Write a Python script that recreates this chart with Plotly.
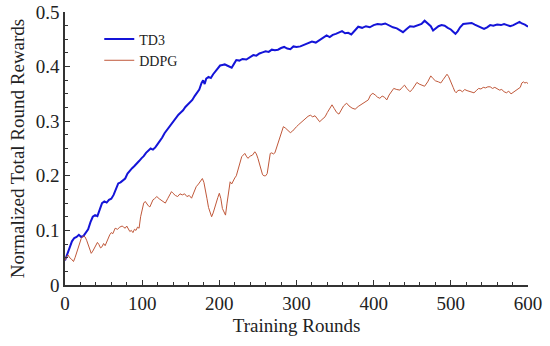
import plotly.graph_objects as go

td3_x = [0,3,6,9,12,15,18,21,24,27,30,33,36,39,42,45,48,51,54,57,60,63,66,69,72,75,78,81,84,87,90,93,96,99,102,105,108,111,114,117,120,123,126,129,132,135,138,141,144,147,150,153,156,159,162,165,168,171,174,177,179,181,183,186,189,192,195,198,201,204,207,210,213,216,219,222,226,230,235,240,244,248,252,256,260,264,268,272,276,280,284,288,292,296,300,305,310,315,320,325,330,335,339,343,347,351,355,359,363,367,371,375,380,385,390,395,400,405,410,415,420,425,430,434,438,442,447,452,457,462,466,470,474,477,480,484,488,492,496,500,503,506,509,512,516,520,524,527,531,535,539,543,547,551,555,560,565,569,573,577,581,585,589,592,596,600]
td3_y = [.045,.058,.068,.080,.086,.088,.092,.088,.090,.097,.102,.115,.125,.128,.126,.138,.150,.153,.151,.156,.158,.165,.176,.186,.188,.192,.195,.204,.210,.214,.218,.222,.227,.232,.236,.242,.247,.250,.248,.252,.258,.263,.270,.278,.284,.290,.296,.302,.306,.312,.316,.320,.326,.330,.334,.339,.346,.352,.358,.370,.375,.368,.378,.381,.379,.386,.392,.396,.402,.403,.404,.402,.400,.398,.405,.412,.411,.414,.413,.417,.421,.420,.424,.426,.428,.427,.431,.430,.431,.434,.436,.433,.432,.437,.436,.437,.440,.442,.446,.444,.449,.453,.457,.454,.458,.460,.462,.465,.461,.462,.459,.466,.473,.471,.474,.472,.476,.478,.477,.479,.475,.472,.470,.466,.463,.468,.474,.473,.475,.478,.484,.479,.474,.466,.470,.474,.476,.475,.471,.468,.464,.460,.465,.472,.478,.479,.480,.480,.477,.474,.471,.469,.472,.476,.475,.477,.476,.478,.476,.474,.476,.479,.482,.479,.477,.473]

ddpg_x = [0,2,4,6,8,11,13,15,17,19,21,24,26,28,30,32,34,36,38,40,42,44,46,48,50,52,54,56,58,60,62,65,68,71,74,76,78,80,82,84,86,88,90,92,94,96,98,100,102,104,106,108,110,112,114,116,119,122,125,128,130,133,136,138,140,143,146,149,152,155,158,161,164,167,170,173,176,178,180,182,184,186,188,190,192,194,196,198,200,202,204,206,208,210,212,214,216,218,220,222,224,226,229,231,233,235,237,240,243,246,248,250,252,254,256,258,260,262,264,266,268,270,272,275,278,281,283,286,289,292,295,298,300,303,306,309,312,315,318,321,324,327,330,333,337,340,343,346,349,352,355,358,361,365,368,372,376,380,384,387,390,393,396,399,402,405,408,411,414,417,420,423,426,430,434,437,440,443,447,450,453,456,459,462,466,470,474,477,480,484,487,490,493,495,497,499,501,503,505,507,509,512,515,518,521,524,527,530,533,536,539,542,545,548,551,554,557,560,563,566,569,572,575,578,581,584,587,590,592,594,596,598,600]
ddpg_y = [.045,.052,.055,.050,.048,.043,.050,.058,.066,.075,.085,.090,.088,.082,.074,.066,.058,.062,.068,.072,.078,.074,.068,.070,.076,.072,.080,.086,.092,.096,.094,.104,.102,.106,.108,.106,.104,.108,.102,.098,.100,.096,.102,.100,.106,.104,.125,.140,.150,.153,.148,.145,.143,.150,.156,.158,.162,.158,.155,.152,.150,.158,.166,.171,.168,.164,.162,.167,.165,.167,.162,.164,.159,.168,.180,.185,.192,.195,.188,.176,.158,.142,.132,.125,.132,.143,.152,.160,.168,.158,.140,.132,.128,.150,.170,.189,.185,.192,.196,.200,.210,.222,.235,.238,.241,.236,.232,.236,.238,.244,.240,.232,.222,.212,.202,.200,.200,.204,.225,.241,.242,.240,.242,.255,.270,.283,.290,.287,.282,.279,.282,.288,.290,.294,.298,.302,.306,.309,.311,.308,.310,.304,.299,.303,.308,.316,.324,.330,.323,.316,.313,.320,.328,.333,.328,.324,.322,.327,.331,.333,.336,.339,.348,.351,.348,.344,.342,.346,.344,.339,.348,.355,.360,.358,.357,.362,.366,.360,.354,.358,.364,.371,.368,.366,.364,.372,.383,.378,.374,.372,.370,.376,.382,.386,.382,.374,.369,.362,.355,.352,.356,.357,.354,.358,.356,.355,.354,.352,.356,.360,.359,.362,.361,.363,.363,.360,.362,.359,.357,.358,.354,.352,.355,.350,.353,.356,.358,.362,.370,.372,.370,.371,.369]

x_ticks = [0, 100, 200, 300, 400, 500, 600]
y_ticks = [0, 0.1, 0.2, 0.3, 0.4, 0.5]
y_tick_text = ["0", "0.1", "0.2", "0.3", "0.4", "0.5"]

fig = go.Figure()
fig.add_trace(go.Scatter(x=td3_x, y=td3_y, mode="lines", name="TD3",
                         line=dict(color="#1414d8", width=2)))
fig.add_trace(go.Scatter(x=ddpg_x, y=ddpg_y, mode="lines", name="DDPG",
                         line=dict(color="#c0583a", width=1)))

serif = "Liberation Serif"
fig.update_layout(
    width=550, height=346,
    margin=dict(l=65, r=22, t=12, b=61, autoexpand=False),
    paper_bgcolor="white", plot_bgcolor="white",
    font=dict(family=serif, color="#222"),
    legend=dict(x=0.074, y=0.958, xanchor="left", yanchor="top",
                bgcolor="rgba(0,0,0,0)", font=dict(size=14, family=serif),
                tracegroupgap=0),
    showlegend=True,
)
fig.update_xaxes(range=[0, 600], tickvals=x_ticks, showline=True, linecolor="#333", linewidth=1.5,
                 ticks="inside", ticklen=5, tickcolor="#333", showgrid=False, zeroline=False,
                 automargin=False,
                 minor=dict(ticks="inside", ticklen=3, dtick=20, tickcolor="#333", showgrid=False),
                 tickfont=dict(size=19, family=serif),
                 title=dict(text="Training Rounds", font=dict(size=19, family=serif), standoff=6))
fig.update_yaxes(range=[0, 0.5], tickvals=y_ticks, ticktext=y_tick_text, showline=True, linecolor="#333", linewidth=1.5,
                 ticks="inside", ticklen=5, tickcolor="#333", showgrid=False, zeroline=False,
                 automargin=False,
                 minor=dict(ticks="inside", ticklen=3, dtick=0.025, tickcolor="#333", showgrid=False),
                 tickfont=dict(size=19, family=serif),
                 title=dict(text="Normalized Total Round Rewards", font=dict(size=19, family=serif), standoff=6))

fig.write_html("out.html", config={"displayModeBar": False},
               post_script="document.body.style.margin='0';document.body.style.overflow='hidden';")
